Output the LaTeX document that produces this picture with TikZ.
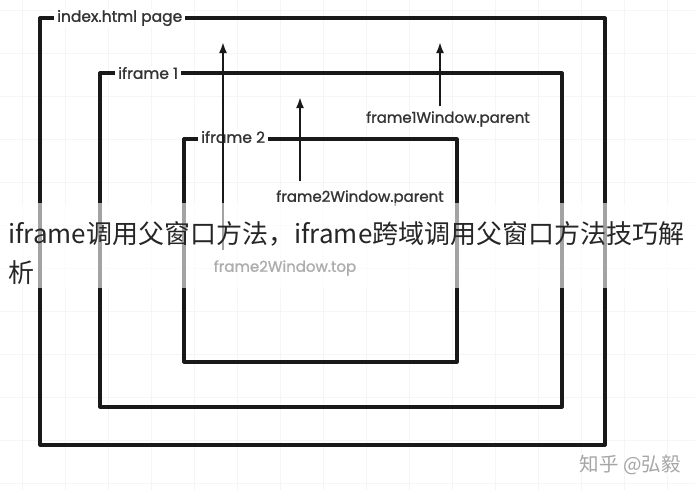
\documentclass[tikz,border=0pt]{standalone}
\usepackage{fontspec}
\setmainfont{Poppins}[AutoFakeBold=1.2]
\newfontfamily\cjk{Noto Sans CJK SC}
\usetikzlibrary{arrows.meta}
\begin{document}
\begin{tikzpicture}[x=1pt,y=-1pt,
  frame/.style={line width=3.2pt, black!90, line join=round},
  flabel/.style={fill=white, inner xsep=3pt, inner ysep=1pt, font=\bfseries\fontsize{15.5}{17}\selectfont, text=black!80},
  wlabel/.style={font=\bfseries\fontsize{15}{17}\selectfont, text=black!80, inner sep=1pt},
  arr/.style={line width=2.8pt, black!90, -{Latex[length=11pt,width=8pt]}},
  gridline/.style={black!4, line width=0.6pt},
  bigtext/.style={anchor=base west, inner sep=0pt, font=\cjk\fontsize{26}{30}\selectfont, text=black!85}
]
\useasboundingbox (0,0) rectangle (695,490);
\fill[white] (0,0) rectangle (695,490);
\foreach \gx in {22,65,108,151,194,237,280,323,366,409,452,495,538,581,624,667}{
  \draw[gridline] (\gx,0) -- (\gx,490);
}
\foreach \gy in {10,53,96,139,182,225,268,311,354,397,440,483}{
  \draw[gridline] (0,\gy) -- (695,\gy);
}
% frames
\draw[frame] (40,18) rectangle (605,445);
\draw[frame] (100,73) rectangle (562,407);
\draw[frame] (184,139) rectangle (457,362);
\node[flabel, anchor=west] (idx) at (54,18) {index.html page};
\node[flabel, anchor=west] (if1) at (115,73) {iframe 1};
\node[flabel, anchor=west] (if2) at (198,137) {iframe 2};
% window labels
\node[wlabel] (f1p) at (448,119) {frame1Window.parent};
\node[wlabel] (f2p) at (360,198) {frame2Window.parent};
\node[wlabel] (f2t) at (285,268) {frame2Window.top};
% arrow targets
\coordinate (t1) at (223,42);
\coordinate (t2) at (440,42);
\coordinate (t3) at (300,97);
\draw[arr, shorten <=9pt] (f2t.north -| t1) -- (t1);
\draw[arr, shorten <=4pt] (f1p.north -| t2) -- (t2);
\draw[arr, shorten <=8pt] (f2p.north -| t3) -- (t3);
% overlay banner
\fill[white, opacity=0.6] (0,203) rectangle (695,288);
\node[bigtext] (title1) at (8,243) {iframe调用父窗口方法，iframe跨域调用父窗口方法技巧解};
\node[bigtext] (title2) at (8,282) {析};
% watermark
\node[anchor=east, inner sep=0pt, font=\cjk\fontsize{19.5}{22}\selectfont, text=white] (wmshadow) at (682,466) {知乎 @弘毅};
\node[anchor=east, inner sep=0pt, font=\cjk\fontsize{19.5}{22}\selectfont, text=black!35] (wm) at (681,465) {知乎 @弘毅};
\end{tikzpicture}
\end{document}
